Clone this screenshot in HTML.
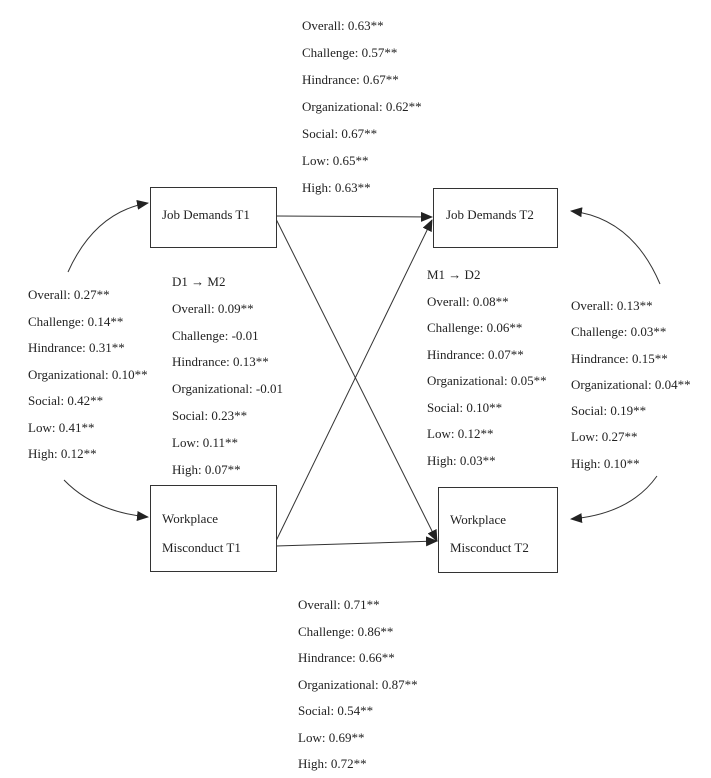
<!DOCTYPE html>
<html><head><meta charset="utf-8"><style>
body{margin:0;background:#fff;width:711px;height:747px;position:relative;overflow:hidden;font-family:"Liberation Serif",serif;font-size:13px;color:#222}
.t{position:absolute;white-space:nowrap;line-height:16px}
.b{position:absolute;border:1.3px solid #333;box-sizing:border-box;background:#fff}
</style></head><body>
<svg width="711" height="747" style="position:absolute;left:0;top:0">
<defs><marker id="a" markerWidth="12" markerHeight="10" refX="11" refY="5" orient="auto" markerUnits="userSpaceOnUse"><path d="M0,0L12,5L0,10z" fill="#222"/></marker></defs>
<g stroke="#333" stroke-width="1" fill="none">
<line x1="276" y1="216" x2="432" y2="217" marker-end="url(#a)"/>
<line x1="276" y1="219" x2="437" y2="541" marker-end="url(#a)"/>
<line x1="276" y1="541" x2="432" y2="220" marker-end="url(#a)"/>
<line x1="276" y1="546" x2="437" y2="541" marker-end="url(#a)"/>
<path d="M68,272 Q95,212 148,203" marker-end="url(#a)"/>
<path d="M64,480 Q95,512 148,517" marker-end="url(#a)"/>
<path d="M660,284 Q632,218 571,211" marker-end="url(#a)"/>
<path d="M657,476 Q630,514 571,519" marker-end="url(#a)"/>
</g></svg>
<div class="b" style="left:150px;top:187px;width:127px;height:61px"></div>
<div class="t" style="left:162px;top:207px">Job Demands T1</div>
<div class="b" style="left:433px;top:188px;width:125px;height:60px"></div>
<div class="t" style="left:446px;top:207px">Job Demands T2</div>
<div class="b" style="left:150px;top:485px;width:127px;height:87px"></div>
<div class="t" style="left:162px;top:511px">Workplace</div>
<div class="t" style="left:162px;top:540px">Misconduct T1</div>
<div class="b" style="left:438px;top:487px;width:120px;height:86px"></div>
<div class="t" style="left:450px;top:512px">Workplace</div>
<div class="t" style="left:450px;top:540px">Misconduct T2</div>

<div class="t" style="left:302px;top:12px;line-height:27px">Overall: 0.63**<br>Challenge: 0.57**<br>Hindrance: 0.67**<br>Organizational: 0.62**<br>Social: 0.67**<br>Low: 0.65**<br>High: 0.63**</div>
<div class="t" style="left:28px;top:282px;line-height:26.5px">Overall: 0.27**<br>Challenge: 0.14**<br>Hindrance: 0.31**<br>Organizational: 0.10**<br>Social: 0.42**<br>Low: 0.41**<br>High: 0.12**</div>
<div class="t" style="left:172px;top:269px;line-height:26.8px">D1 &rarr; M2<br>Overall: 0.09**<br>Challenge: -0.01<br>Hindrance: 0.13**<br>Organizational: -0.01<br>Social: 0.23**<br>Low: 0.11**<br>High: 0.07**</div>
<div class="t" style="left:427px;top:262px;line-height:26.5px">M1 &rarr; D2<br>Overall: 0.08**<br>Challenge: 0.06**<br>Hindrance: 0.07**<br>Organizational: 0.05**<br>Social: 0.10**<br>Low: 0.12**<br>High: 0.03**</div>
<div class="t" style="left:571px;top:293px;line-height:26.3px">Overall: 0.13**<br>Challenge: 0.03**<br>Hindrance: 0.15**<br>Organizational: 0.04**<br>Social: 0.19**<br>Low: 0.27**<br>High: 0.10**</div>
<div class="t" style="left:298px;top:592px;line-height:26.5px">Overall: 0.71**<br>Challenge: 0.86**<br>Hindrance: 0.66**<br>Organizational: 0.87**<br>Social: 0.54**<br>Low: 0.69**<br>High: 0.72**</div>
</body></html>
